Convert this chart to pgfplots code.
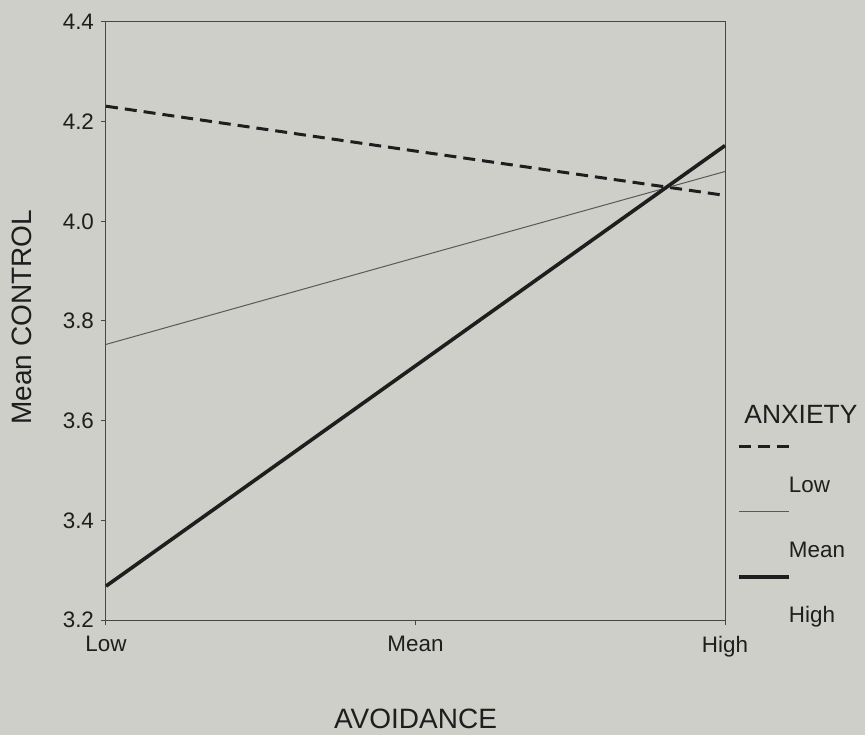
\documentclass[border=0pt]{standalone}
\usepackage{fontspec}
\setmainfont{Liberation Sans}
\usepackage{pgfplots}
\pgfplotsset{compat=1.18}
\definecolor{paper}{RGB}{206,207,200}
\definecolor{ink}{RGB}{30,30,30}
\definecolor{frame}{RGB}{70,70,70}
\begin{document}
\begin{tikzpicture}
  \path[use as bounding box, fill=paper] (-53bp,-57.5bp) rectangle (379.5bp,310bp);
  \begin{axis}[
    at={(0,0)}, anchor=south west, scale only axis,
    width=309.5bp, height=299bp,
    xmin=0, xmax=2, ymin=3.2, ymax=4.4,
    xtick={0,1,2}, xticklabels={Low,Mean,High},
    ytick={3.2,3.4,...,4.41},
    yticklabel style={/pgf/number format/.cd, fixed, fixed zerofill, precision=1},
    xticklabel style={yshift=-2bp},
    /pgf/number format/assume math mode=true,
    tick align=outside, xtick pos=bottom, ytick pos=left,
    major tick length=2.5bp,
    axis line style={frame, line width=0.5bp},
    every tick/.style={frame, line width=0.5bp},
    tick label style={font=\fontsize{11.2bp}{13bp}\selectfont, text=ink},
    xlabel={AVOIDANCE}, ylabel={Mean CONTROL},
    label style={font=\fontsize{14bp}{16bp}\selectfont, text=ink},
    xlabel style={at={(axis description cs:0.5,-0.1806)}, anchor=base},
    ylabel style={at={(axis description cs:-0.1357,0.506)}, anchor=center},
    clip=false,
    legend cell align=left,
    legend image code/.code={
      \draw[#1, overlay] (0bp,20bp) -- (25bp,20bp);
      \path[draw=none] (0bp,0bp) -- (25bp,0bp);
    },
    legend style={draw=none, fill=none, inner sep=0pt, outer sep=0pt,
      at={(axis description cs:1.0226,0.240)}, anchor=north west,
      row sep=22bp,
      nodes={inner sep=0pt, text height=8bp, text depth=2.5bp,
        font=\fontsize{11.2bp}{13bp}\selectfont, text=ink}},
  ]
    \addplot[ink, line width=1.5bp, dash pattern=on 6bp off 3.5bp]
      coordinates {(0,4.231) (1,4.141) (2,4.052)};
    \addlegendentry{Low}
    \addplot[black!65, line width=0.5bp]
      coordinates {(0,3.753) (1,3.927) (2,4.100)};
    \addlegendentry{Mean}
    \addplot[ink, line width=1.8bp]
      coordinates {(0,3.268) (1,3.710) (2,4.152)};
    \addlegendentry{High}
    \node[anchor=base west, inner sep=0pt, text=ink,
      font=\fontsize{13.2bp}{15bp}\selectfont]
      at (axis description cs:1.0307,0.3294) {ANXIETY};
  \end{axis}
\end{tikzpicture}
\end{document}
